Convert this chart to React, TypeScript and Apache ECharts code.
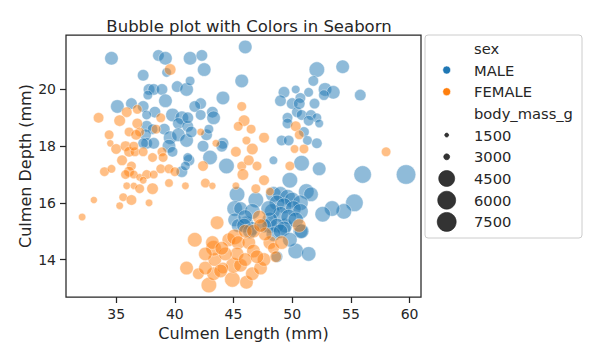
import React, { useEffect, useRef } from "react";
import * as echarts from "echarts";

// ---- Data ----
const maleLength = [34.6, 38.6, 39.2, 39.3, 37.3, 41.3, 37.8, 38.2, 38.9, 37.7, 40.2, 41.0, 39.2, 35.1, 36.3, 37.3, 38.3, 37.6, 39.8, 40.6, 40.3, 41.1, 37.6, 38.1, 39.1, 37.5, 37.6, 38.2, 37.3, 39.6, 39.5, 40.3, 41.0, 41.2, 40.6, 39.8, 46.0, 42.3, 42.5, 41.3, 45.7, 44.1, 42.2, 41.7, 43.2, 43.3, 42.2, 41.1, 41.4, 42.7, 42.9, 44.1, 49.3, 50.3, 49.0, 50.0, 49.6, 50.4, 49.6, 49.1, 49.7, 52.1, 54.3, 51.8, 52.8, 53.5, 52.7, 55.8, 51.4, 50.7, 50.6, 51.9, 50.8, 51.6, 52.1, 52.3, 51.4, 51.0, 51.3, 52.1, 50.8, 52.3, 56.0, 59.7, 49.8, 45.3, 51.2, 51.6, 55.3, 54.4, 53.4, 52.6, 46.9, 45.1, 50.3, 51.4, 48.7, 48.4, 43.0, 44.4, 42.4, 44.0, 41.1, 45.6, 45.1, 46.1, 45.4, 46.6, 48.1, 49.4, 50.7, 40.9, 48.4, 49.0, 49.6, 50.0, 50.7, 48.7, 49.3, 50.1, 50.7, 48.3, 49.0, 49.7, 50.3, 48.1, 48.7, 49.3, 50.8, 47.6, 46.6, 46.0, 45.9, 46.4, 48.4, 49.0, 49.8, 48.0];
const maleDepth = [21.1, 21.2, 21.1, 20.6, 20.5, 21.1, 20.0, 20.0, 20.0, 19.8, 20.1, 20.0, 19.6, 19.4, 19.5, 19.4, 19.2, 19.1, 19.1, 19.0, 18.8, 18.7, 18.7, 18.6, 18.6, 18.4, 18.1, 18.1, 18.1, 18.3, 18.0, 18.4, 18.2, 17.5, 17.1, 17.8, 21.5, 21.2, 20.7, 20.3, 20.3, 19.7, 19.5, 19.4, 19.2, 19.0, 19.1, 19.0, 18.5, 18.4, 18.6, 18.1, 19.9, 20.0, 19.6, 19.5, 19.0, 19.2, 18.8, 18.2, 18.2, 20.7, 20.8, 20.3, 20.0, 19.9, 19.8, 19.8, 19.9, 19.7, 19.5, 19.5, 19.1, 19.1, 19.0, 18.8, 18.9, 18.5, 18.2, 18.1, 17.4, 17.2, 17.0, 17.0, 16.8, 16.3, 16.4, 16.3, 16.0, 15.7, 15.8, 15.6, 16.1, 15.8, 14.3, 14.2, 14.1, 17.5, 17.6, 17.3, 18.0, 18.0, 17.6, 15.8, 15.4, 15.3, 15.2, 15.1, 15.2, 15.2, 15.0, 17.3, 16.3, 16.3, 16.2, 16.1, 16.0, 16.0, 15.9, 15.8, 15.7, 15.7, 15.6, 15.5, 15.4, 15.4, 15.2, 15.1, 15.0, 15.2, 15.7, 15.5, 15.2, 15.0, 14.9, 15.0, 14.7, 15.8];
const maleMass = [3900, 3600, 3900, 3300, 3600, 3900, 3600, 3600, 3600, 3300, 3600, 3900, 3900, 3900, 3600, 3600, 3600, 3300, 3900, 3900, 3600, 3600, 3600, 3450, 3600, 3600, 3600, 3600, 3450, 3900, 3900, 3900, 3900, 3600, 3600, 3450, 3900, 3600, 3900, 3300, 3900, 3900, 3600, 3600, 3600, 3900, 3450, 3600, 3600, 3600, 3300, 3600, 3600, 3150, 3600, 3600, 3450, 3450, 3450, 3450, 3450, 4200, 3900, 3450, 3900, 3900, 3450, 3600, 3300, 3450, 3600, 3450, 3450, 3450, 3300, 3150, 3450, 3450, 3300, 3450, 4200, 3900, 4500, 6000, 4200, 4200, 4200, 4050, 4500, 4200, 4200, 4200, 4200, 4200, 4200, 4050, 3600, 3150, 4050, 4200, 3600, 3600, 3300, 3900, 3900, 3900, 3900, 3900, 4200, 4050, 4050, 3300, 4200, 4200, 4200, 4200, 4200, 4200, 4200, 4200, 4200, 4200, 4200, 4200, 4200, 4200, 4050, 4050, 4050, 4050, 4200, 4050, 4050, 4050, 4050, 4050, 4050, 4200];

const femaleLength = [39.6, 33.5, 35.9, 35.3, 36.8, 36.8, 38.8, 34.4, 37.0, 38.4, 36.1, 36.7, 34.5, 35.0, 35.8, 36.1, 36.6, 37.3, 36.5, 38.1, 38.9, 39.0, 35.5, 36.3, 34.0, 34.6, 36.1, 35.8, 36.5, 37.0, 37.6, 38.2, 38.8, 39.5, 40.0, 37.3, 35.9, 36.5, 37.0, 38.1, 39.5, 40.9, 35.6, 36.3, 37.8, 35.3, 33.1, 32.1, 45.7, 45.9, 45.4, 46.5, 47.6, 46.1, 43.5, 42.2, 50.3, 50.6, 50.2, 51.0, 58.0, 45.7, 47.0, 47.6, 46.9, 45.2, 48.1, 47.2, 50.6, 49.8, 45.2, 46.6, 46.3, 45.8, 42.4, 42.6, 43.2, 43.6, 41.7, 41.0, 42.0, 42.9, 43.3, 42.6, 43.4, 43.3, 43.2, 44.9, 46.1, 45.0, 45.6, 46.6, 47.3, 44.6, 45.1, 45.4, 45.3, 46.3, 46.7, 47.6, 48.1, 48.4, 47.7, 46.0, 46.7, 49.1, 47.3, 44.3, 44.0, 42.6, 44.1, 46.0, 47.0, 43.9, 48.6];
const femaleDepth = [20.7, 19.0, 19.2, 18.9, 18.8, 19.3, 19.0, 18.4, 18.5, 18.6, 18.5, 18.4, 18.1, 17.9, 18.0, 17.8, 17.8, 17.8, 18.0, 17.6, 17.8, 17.6, 17.5, 17.3, 17.1, 17.2, 17.1, 17.0, 17.0, 16.9, 17.0, 17.0, 17.2, 17.2, 17.1, 16.8, 16.6, 16.6, 16.5, 16.5, 16.7, 16.6, 16.2, 16.1, 16.0, 15.9, 16.1, 15.5, 19.4, 18.9, 18.7, 18.6, 18.3, 18.2, 18.1, 18.5, 18.7, 18.4, 17.9, 17.9, 17.8, 17.3, 17.3, 16.8, 16.5, 16.6, 16.4, 15.5, 15.2, 17.3, 17.8, 17.9, 17.5, 17.0, 17.3, 16.7, 16.6, 15.3, 14.7, 13.7, 13.5, 13.1, 13.5, 13.7, 14.0, 14.4, 14.6, 13.3, 13.2, 13.8, 13.8, 13.5, 13.7, 14.7, 14.8, 14.6, 14.2, 14.6, 14.3, 14.0, 14.6, 14.4, 14.9, 15.0, 15.0, 14.6, 15.2, 14.2, 14.4, 14.2, 13.7, 14.0, 14.1, 13.6, 14.1];
const femaleMass = [3600, 3450, 3450, 3600, 3450, 3300, 3300, 3300, 3300, 3300, 3300, 3450, 2700, 3450, 3450, 3450, 3300, 3300, 3300, 3300, 3300, 3300, 3450, 3300, 3300, 3150, 3450, 3300, 3150, 3000, 3300, 3150, 3300, 3300, 3300, 3000, 3000, 2700, 3300, 3600, 3150, 3000, 3150, 3450, 3000, 3000, 2700, 3000, 3300, 3600, 3300, 3300, 3450, 3150, 3000, 3000, 3450, 3300, 3150, 3300, 3300, 3300, 3300, 3450, 3300, 3000, 3150, 3900, 3900, 3300, 3450, 3600, 3450, 3600, 3450, 3300, 2700, 3900, 4050, 3900, 3600, 4200, 3900, 3900, 3900, 4200, 3900, 4200, 3900, 4200, 3900, 3900, 3900, 3900, 4200, 3900, 3900, 3900, 3900, 3900, 3900, 3600, 3900, 3900, 3900, 3900, 3900, 3900, 3900, 3900, 3600, 3900, 3900, 3900, 3600];

const xTicks = [35, 40, 45, 50, 55, 60];
const yTicks = [14, 16, 18, 20];
const sexLabels = ["MALE", "FEMALE"];
const sexColors = ["#1f77b4", "#ff7f0e"];
const sizeLegendValues = [1500, 3000, 4500, 6000, 7500];
// legend marker diameters observed for the size legend values
const sizeLegendDiameters = [4, 6, 16, 18, 19];

function sizeFor(m: number): number {
  const v = sizeLegendValues;
  const d = sizeLegendDiameters;
  if (m <= v[0]) return d[0];
  for (let i = 1; i < v.length; i++) {
    if (m <= v[i]) {
      const t = (m - v[i - 1]) / (v[i] - v[i - 1]);
      return d[i - 1] + t * (d[i] - d[i - 1]);
    }
  }
  return d[d.length - 1];
}

const FONT = "DejaVu Sans";
const TXT = "#262626";

export default function App() {
  const ref = useRef<HTMLDivElement>(null);
  useEffect(() => {
    document.body.style.margin = "0";
    if (!ref.current) return;
    const chart = echarts.init(ref.current, undefined, { renderer: "svg" });

    const mk = (xs: number[], ys: number[], ms: number[]) =>
      xs.map((x, i) => [x, ys[i], ms[i]]);

    // legend graphic
    const legendX = 425;
    const legendY = 35;
    const rowH = 21.7;
    const firstRow = 48.3;
    const markerX = 446.7;
    const textX = 474;
    const legendChildren: any[] = [
      {
        type: "rect",
        shape: { x: legendX, y: legendY, width: 157, height: 203, r: 3 },
        style: { fill: "rgba(255,255,255,0.8)", stroke: "#cccccc", lineWidth: 1 },
      },
    ];
    const rows: { label: string; marker?: { r: number; color: string } }[] = [];
    rows.push({ label: "sex" });
    sexLabels.forEach((s, i) => rows.push({ label: s, marker: { r: 4, color: sexColors[i] } }));
    rows.push({ label: "body_mass_g" });
    sizeLegendValues.forEach((v) =>
      rows.push({ label: String(v), marker: { r: sizeFor(v) / 2, color: "#333333" } })
    );
    rows.forEach((row, i) => {
      const cy = firstRow + i * rowH;
      if (row.marker) {
        legendChildren.push({
          type: "circle",
          shape: { cx: markerX, cy, r: row.marker.r },
          style: { fill: row.marker.color, stroke: row.marker.color === "#333333" ? "#222" : "#fff", lineWidth: 0.6 },
        });
      }
      legendChildren.push({
        type: "text",
        x: textX,
        y: cy,
        style: {
          text: row.label,
          fill: TXT,
          font: `14.7px "${FONT}"`,
          textVerticalAlign: "middle",
          verticalAlign: "middle",
        },
      });
    });

    const pointSize = (v: number[]) => sizeFor(v[2]) + 1.5;

    chart.setOption({
      animation: false,
      title: {
        text: "Bubble plot with Colors in Seaborn",
        left: 244,
        top: 13,
        textAlign: "center",
        textStyle: { fontFamily: FONT, fontSize: 16.5, fontWeight: "normal", color: TXT },
      },
      grid: {
        left: 66,
        right: 179,
        top: 35,
        bottom: 63,
        show: true,
        borderColor: TXT,
        borderWidth: 1.25,
        backgroundColor: "#fff",
      },
      xAxis: {
        type: "value",
        min: 30.725,
        max: 60.975,
        name: "Culmen Length (mm)",
        nameLocation: "middle",
        nameGap: 28,
        nameTextStyle: { fontFamily: FONT, fontSize: 16, color: TXT },
        axisLine: { show: false },
        splitLine: { show: false },
        axisTick: {
          show: true,
          length: 6,
          lineStyle: { color: TXT, width: 1.25 },
          customValues: xTicks,
        },
        axisLabel: {
          fontFamily: FONT,
          fontSize: 14,
          color: TXT,
          margin: 10,
          customValues: xTicks,
        },
      },
      yAxis: {
        type: "value",
        min: 12.68,
        max: 21.92,
        name: "Culmen Depth (mm)",
        nameLocation: "middle",
        nameGap: 33,
        nameMoveOverlap: false,
        nameTextStyle: { fontFamily: FONT, fontSize: 16, color: TXT },
        axisLine: { show: false },
        splitLine: { show: false },
        axisTick: {
          show: true,
          length: 6,
          lineStyle: { color: TXT, width: 1.25 },
          customValues: yTicks,
        },
        axisLabel: {
          fontFamily: FONT,
          fontSize: 14,
          color: TXT,
          margin: 10,
          customValues: yTicks,
        },
      },
      series: [
        {
          name: sexLabels[0],
          type: "scatter",
          data: mk(maleLength, maleDepth, maleMass),
          symbolSize: pointSize,
          itemStyle: { color: sexColors[0], opacity: 0.5, borderColor: "#ffffff", borderWidth: 0.8 },
          emphasis: { disabled: true },
        },
        {
          name: sexLabels[1],
          type: "scatter",
          data: mk(femaleLength, femaleDepth, femaleMass),
          symbolSize: pointSize,
          itemStyle: { color: sexColors[1], opacity: 0.5, borderColor: "#ffffff", borderWidth: 0.8 },
          emphasis: { disabled: true },
        },
      ],
      graphic: [{ type: "group", children: legendChildren }],
    });
    return () => chart.dispose();
  }, []);
  return (
    <div
      ref={ref}
      style={{ position: "absolute", left: 0, top: 0, width: 600, height: 360 }}
    />
  );
}
